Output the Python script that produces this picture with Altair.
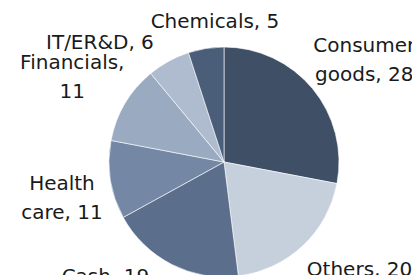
import altair as alt
import pandas as pd

categories = ["Consumer goods", "Others", "Cash", "Health care", "Financials", "IT/ER&D", "Chemicals"]
values = [28, 20, 19, 11, 11, 6, 5]
labels = ["Consumer\ngoods, 28", "Others, 20", "Cash, 19", "Health\ncare, 11", "Financials,\n11", "IT/ER&D, 6", "Chemicals, 5"]
colors = ["#3e4f66", "#c6cfdc", "#5b6f8d", "#7488a6", "#9aaac0", "#afbccf", "#4b5e79"]

df = pd.DataFrame({"category": categories, "value": values, "label": labels, "idx": list(range(len(categories)))})

CX, CY = 216, 154  # pie centre inside the plot area
R = 115

base = alt.Chart(df).transform_window(
    cum="sum(value)", sort=[{"field": "idx"}], frame=[None, 0]
).transform_joinaggregate(
    total="sum(value)"
).transform_calculate(
    t0="(datum.cum - datum.value) / datum.total",
    t1="datum.cum / datum.total",
    tm="(datum.cum - datum.value / 2) / datum.total",
)

theta_scale = alt.Scale(domain=[0, 1])

arcs = base.mark_arc(outerRadius=R, stroke="#ffffff", strokeWidth=0.6).encode(
    theta=alt.Theta("t0:Q", scale=theta_scale),
    theta2="t1:Q",
    color=alt.Color("category:N", scale=alt.Scale(domain=categories, range=colors), legend=None),
    x=alt.value(CX),
    y=alt.value(CY),
)

nudges = {
    "Consumer goods": (17, -8),
    "Others": (26, -3),
    "Cash": (-46, -22),
    "Health care": (-4, 3),
    "Financials": (-14, -12),
    "IT/ER&D": (-47, 27),
    "Chemicals": (16, 24),
}

text_layers = []
for cat in categories:
    dx, dy = nudges[cat]
    text_layers.append(
        base.transform_filter(alt.datum.category == cat).mark_text(
            font="DejaVu Sans", fontSize=20, color="#1a1a1a", align="center",
            baseline="alphabetic", lineBreak="\n", lineHeight=29, dx=dx, dy=dy,
        ).encode(
            theta=alt.Theta("tm:Q", scale=theta_scale),
            radius=alt.value(160),
            x=alt.value(CX),
            y=alt.value(CY),
            text="label:N",
        )
    )

chart = alt.layer(arcs, *text_layers).properties(
    width=404, height=267, autosize=alt.AutoSizeParams(type="none"), padding=0,
).configure_view(stroke=None)

chart.save("out.html", embed_options={"renderer": "svg", "actions": False})
